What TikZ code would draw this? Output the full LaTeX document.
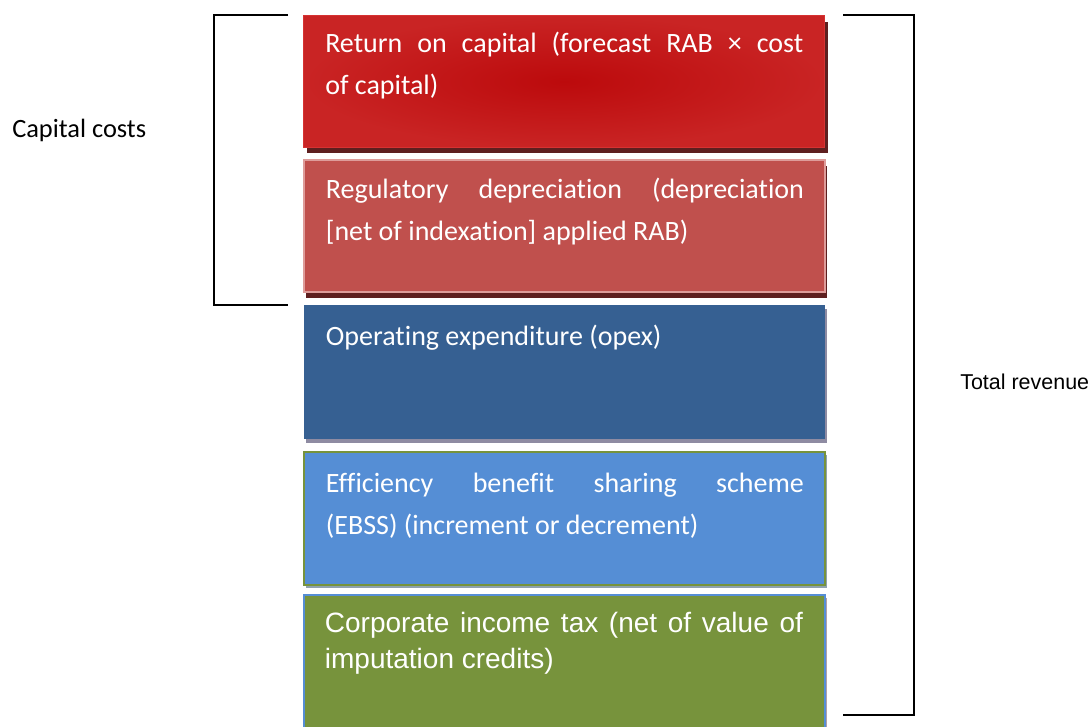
\documentclass[tikz,border=0pt]{standalone}
\usepackage{fontspec}
\setmainfont[Ligatures=CommonOff]{Carlito}
\newfontfamily\arialfont{Liberation Sans}
\usepackage{xcolor}
\usepackage{tikz}
\usetikzlibrary{positioning}
\usetikzlibrary{shadows}
\definecolor{retin}{HTML}{BC0A0C}
\definecolor{retout}{HTML}{C92424}
\definecolor{retline}{HTML}{D63232}
\definecolor{depfill}{HTML}{C0504D}
\definecolor{depline}{HTML}{DE9C9A}
\definecolor{shred}{HTML}{5E1F1F}
\definecolor{opexfill}{HTML}{366092}
\definecolor{opexshd}{HTML}{8E8BA2}
\definecolor{ebssfill}{HTML}{558ED5}
\definecolor{ebssshd}{HTML}{8FA2AE}
\definecolor{taxfill}{HTML}{77933C}
\definecolor{taxshd}{HTML}{B0A0A8}
\tikzstyle{blk} = [minimum width=390.75pt, inner sep=0pt, line width=1.5pt]
\tikzstyle{txt} = [text=white, text width=358.5pt, align=justify, inner sep=0pt, anchor=base west, font=\fontsize{21}{31.5}\selectfont]
\tikzstyle{brace} = [line width=1.1pt, black]

\begin{document}
\begin{tikzpicture}[x=0.75pt, y=-0.75pt, node distance=8.25pt]
\useasboundingbox (0,0) rectangle (1092,727);
\node [blk, anchor=north west, minimum height=98.75pt, draw=retline, line width=1pt, inner color=retin, outer color=retout, drop shadow={shadow xshift=2.5pt, shadow yshift=-4.5pt, fill=shred, opacity=1}] (ret) at (303,15) {};
\node [blk, below=of ret, minimum height=99pt, fill=depfill, draw=depline, drop shadow={shadow xshift=2pt, shadow yshift=-4.5pt, fill=shred, opacity=1}] (dep) {};
\node [blk, below=of dep, minimum height=100.5pt, fill=opexfill, drop shadow={shadow xshift=1.5pt, shadow yshift=-3pt, fill=opexshd, opacity=1}] (opex) {};
\node [blk, below=of opex, minimum height=99.75pt, fill=ebssfill, draw=taxfill, drop shadow={shadow xshift=1.5pt, shadow yshift=-2pt, fill=ebssshd, opacity=1}] (ebss) {};
\node [blk, below=6pt of ebss, minimum height=105pt, fill=taxfill, draw=ebssfill, drop shadow={shadow xshift=1.5pt, shadow yshift=-2pt, fill=taxshd, opacity=1}] (tax) {};
\node [txt] (rettxt) at ([shift={(22,38)}]ret.north west) {Return on capital (forecast RAB × cost\linebreak of capital)};
\node [txt] (deptxt) at ([shift={(23,40)}]dep.north west) {Regulatory depreciation (depreciation\linebreak {[}net of indexation] applied RAB)};
\node [txt] (opextxt) at ([shift={(23,41)}]opex.north west) {Operating expenditure (opex)};
\node [txt] (ebsstxt) at ([shift={(23,41)}]ebss.north west) {Efficiency benefit sharing scheme\linebreak (EBSS) (increment or decrement)};
\node [txt, font=\arialfont\fontsize{21}{27}\selectfont] (taxtxt) at ([shift={(22,38)}]tax.north west) {Corporate income tax (net of value of\linebreak imputation credits)};
\node [anchor=base west, inner sep=0pt, font=\fontsize{19.8}{22}\selectfont] (capcost) at (12,138) {Capital costs};
\node [anchor=base west, inner sep=0pt, font=\arialfont\fontsize{16.1}{18}\selectfont] (totrev) at (960,389) {Total revenue};
\coordinate (lt) at (288,15);
\coordinate (lb) at (288,305);
\coordinate (rt) at (843,15);
\coordinate (rb) at (843,715);
\draw [brace] (lt) -- ++(-74,0) |- (lb);
\draw [brace] (rt) -- ++(71,0) |- (rb);
\end{tikzpicture}
\end{document}
